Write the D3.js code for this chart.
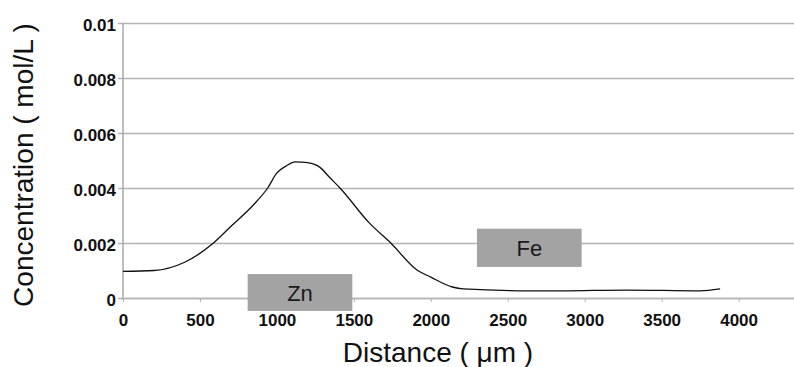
<!DOCTYPE html>
<meta charset="utf-8">
<style>
body{ margin:0; background:#fff; font-family: Arial, "Liberation Sans", Helvetica, sans-serif; }
.grid line{ stroke:#b4b4b4; stroke-width:1.5; }
.tick text{ font-weight:bold; font-size:17px; fill:#111; }
</style>
<svg id="chart" width="794" height="367"></svg>
<script src="https://cdn.jsdelivr.net/npm/d3@7"></script>
<script>

// concentration profile
var distance = [0, 200, 400, 580, 700, 850, 940, 1000, 1060, 1120, 1200, 1280, 1340, 1410, 1600, 1740, 1910, 2000, 2140, 2210, 2650, 2850, 3270, 3750, 3880]
var conc = [0.00097, 0.00100, 0.00130, 0.00196, 0.0026, 0.0034, 0.0040, 0.00455, 0.0048, 0.00495, 0.00492, 0.00475, 0.0044, 0.0040, 0.00273, 0.0020, 0.00102, 0.00076, 0.00040, 0.00033, 0.00026, 0.00026, 0.00029, 0.00026, 0.00033]

var xTicks = [0, 500, 1000, 1500, 2000, 2500, 3000, 3500, 4000]
var yTicks = [0, 0.002, 0.004, 0.006, 0.008, 0.01]
var yTickLabels = ['0', '0.002', '0.004', '0.006', '0.008', '0.01']

// element boxes: [label, x0, x1, yTop, yBottom] in data units
var labels = ['Zn', 'Fe']
var boxX0 = [810, 2300]
var boxX1 = [1490, 2980]
var boxYTop = [0.00087, 0.00252]
var boxYBot = [-0.00047, 0.00113]

var svg = d3.select('#chart')

var x = d3.scaleLinear().domain([0, 4360]).range([123, 794])
var y = d3.scaleLinear().domain([0, 0.01]).range([298, 23])

// horizontal gridlines with small ticks to the left
svg.append('g')
    .attr('class', 'grid')
    .attr('transform', 'translate(123,0)')
    .call(d3.axisLeft(y).tickValues(yTicks).tickSize(-671).tickSizeOuter(0)
      .tickFormat(function(d, i){ return yTickLabels[i] }))
    .call(function(g){
      g.select('.domain').remove()
      g.selectAll('.tick line').attr('x1', -5)
      g.selectAll('.tick text').attr('x', -7).attr('dy', '0.45em')
    })

// y axis line
svg.append('line')
    .attr('x1', 123).attr('x2', 123)
    .attr('y1', y(0.01)).attr('y2', y(0) + 2)
    .style('stroke', '#a8a8a8').style('stroke-width', 1.5)

// x axis
svg.append('g')
    .attr('transform', 'translate(0,' + y(0) + ')')
    .call(d3.axisBottom(x).tickValues(xTicks).tickSize(4).tickSizeOuter(0).tickFormat(d3.format('d')))
    .call(function(g){
      g.select('.domain').style('stroke', '#b4b4b4').style('stroke-width', 1.5)
      g.selectAll('.tick line').style('stroke', '#b4b4b4')
      g.selectAll('.tick text').attr('y', 28).attr('dy', '0')
    })

// profile line
var line = d3.line()
    .x(function(d, i){ return x(distance[i]) })
    .y(function(d){ return y(d) })
    .curve(d3.curveMonotoneX)

svg.append('path')
    .datum(conc)
    .attr('d', line)
    .style('fill', 'none')
    .style('stroke', '#111')
    .style('stroke-width', 1.3)

// element labels
var box = svg.selectAll('.box').data(labels).enter().append('g').attr('class', 'box')
box.append('rect')
    .attr('x', function(d, i){ return x(boxX0[i]) })
    .attr('y', function(d, i){ return y(boxYTop[i]) })
    .attr('width', function(d, i){ return x(boxX1[i]) - x(boxX0[i]) })
    .attr('height', function(d, i){ return y(boxYBot[i]) - y(boxYTop[i]) })
    .style('fill', '#a3a3a3')
box.append('text')
    .attr('x', function(d, i){ return (x(boxX0[i]) + x(boxX1[i])) / 2 })
    .attr('y', function(d, i){ return (y(boxYTop[i]) + y(boxYBot[i])) / 2 + 8 })
    .attr('text-anchor', 'middle')
    .style('font-size', '22px')
    .style('fill', '#1a1a1a')
    .text(function(d){ return d })

// axis titles
svg.append('text')
    .attr('x', 438).attr('y', 362)
    .attr('text-anchor', 'middle')
    .style('font-size', '28px')
    .style('fill', '#111')
    .text('Distance ( μm )')

svg.append('text')
    .attr('transform', 'translate(33,165) rotate(-90)')
    .attr('text-anchor', 'middle')
    .style('font-size', '28px')
    .style('fill', '#111')
    .text('Concentration ( mol/L )')

</script>
